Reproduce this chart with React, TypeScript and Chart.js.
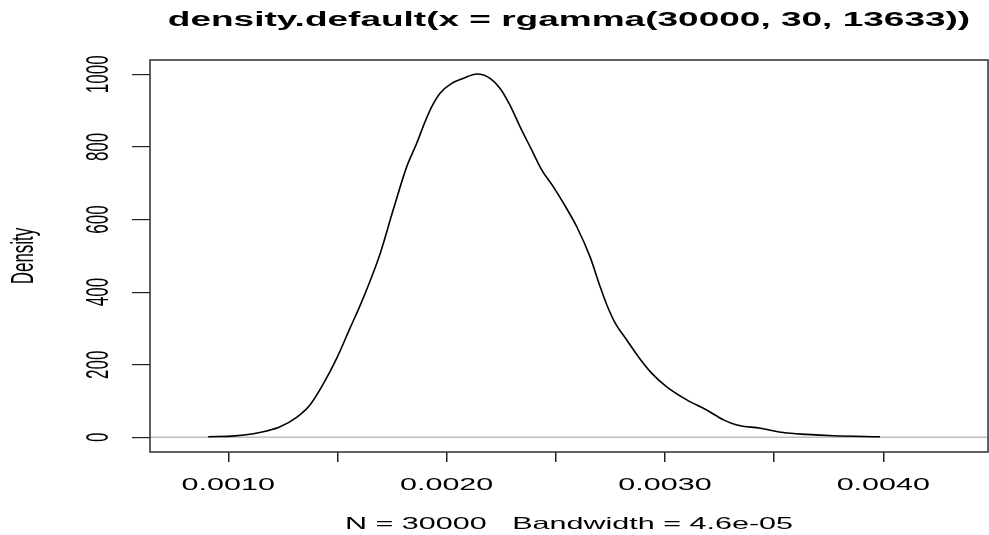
import { useEffect, useRef } from "react";
import { Chart, registerables } from "chart.js";

Chart.register(...registerables);

// Density curve
const densX = [
  0.000908, 0.00103, 0.001115, 0.00118, 0.001237, 0.001313, 0.001374, 0.001435,
  0.001497, 0.001557, 0.001603, 0.001649, 0.001695, 0.001756, 0.001817, 0.001863,
  0.001901, 0.001932, 0.00197, 0.002023, 0.002077, 0.002138, 0.002199, 0.002245,
  0.00229, 0.002336, 0.00239, 0.002436, 0.002489, 0.002535, 0.002596, 0.002657,
  0.002703, 0.002733, 0.002771, 0.002825, 0.002878, 0.00294, 0.003008, 0.0031,
  0.003191, 0.003268, 0.003329, 0.003436, 0.003542, 0.00365, 0.003771, 0.003985,
];
const densY = [
  1.5, 4, 10, 18, 29, 55, 89, 147,
  218, 300, 362, 430, 505, 628, 745, 810,
  869, 911, 948, 975, 989, 1001, 989, 961,
  915, 856, 791, 736, 690, 645, 580, 497,
  415, 366, 316, 268, 222, 176, 139, 103,
  75, 48, 34, 25, 13, 8, 4.4, 1.6,
];

const xTickValues = [0.001, 0.0015, 0.002, 0.0025, 0.003, 0.0035, 0.004];
const xTickLabels = ["0.0010", "", "0.0020", "", "0.0030", "", "0.0040"];
const yTickValues = [0, 200, 400, 600, 800, 1000];
const yTickLabels = ["0", "200", "400", "600", "800", "1000"];

const titleText = "density.default(x = rgamma(30000, 30, 13633))";
const xAxisTitle = "N = 30000   Bandwidth = 4.6e-05";
const yAxisTitle = "Density";

const X_MIN = 0.0006414;
const X_MAX = 0.0044795;
const Y_MIN = -40.5;
const Y_MAX = 1039.4;

const HS = 1.85; // horizontal stretch of the text
const FONT = '"Liberation Sans", Arial, sans-serif';

function drawText(
  ctx: CanvasRenderingContext2D,
  text: string,
  x: number,
  y: number,
  size: number,
  bold: boolean,
  rotate: boolean,
  align: CanvasTextAlign,
  baseline: CanvasTextBaseline
) {
  ctx.save();
  ctx.translate(x, y);
  ctx.scale(HS, 1);
  if (rotate) ctx.rotate(-Math.PI / 2);
  ctx.font = `${bold ? "bold " : ""}${size}px ${FONT}`;
  ctx.textAlign = align;
  ctx.textBaseline = baseline;
  ctx.fillStyle = "#000";
  ctx.fillText(text, 0, 0);
  ctx.restore();
}

const decorPlugin = {
  id: "rDecor",
  beforeDatasetsDraw(chart: any) {
    const { ctx, chartArea, scales } = chart;
    const y0 = scales.y.getPixelForValue(0);
    ctx.save();
    ctx.strokeStyle = "#bebebe";
    ctx.lineWidth = 1.5;
    ctx.beginPath();
    ctx.moveTo(chartArea.left, y0);
    ctx.lineTo(chartArea.right, y0);
    ctx.stroke();
    ctx.restore();
  },
  afterDatasetsDraw(chart: any) {
    const { ctx, chartArea, scales } = chart;
    ctx.save();
    ctx.strokeStyle = "#3a3a3a";
    ctx.lineWidth = 1.6;
    ctx.strokeRect(
      chartArea.left,
      chartArea.top,
      chartArea.right - chartArea.left,
      chartArea.bottom - chartArea.top
    );
    ctx.restore();

    // title
    drawText(ctx, titleText, (chartArea.left + chartArea.right) / 2, 26, 20, true, false, "center", "alphabetic");
    // x tick labels
    xTickValues.forEach((v, i) => {
      const lab = xTickLabels[i];
      if (!lab) return;
      drawText(ctx, lab, scales.x.getPixelForValue(v), 490, 16.5, false, false, "center", "alphabetic");
    });
    // y tick labels
    yTickValues.forEach((v, i) => {
      drawText(ctx, yTickLabels[i], 108, scales.y.getPixelForValue(v), 17, false, true, "center", "alphabetic");
    });
    // axis titles
    drawText(ctx, xAxisTitle, (chartArea.left + chartArea.right) / 2, 529, 16.5, false, false, "center", "alphabetic");
    drawText(ctx, yAxisTitle, 33, 256, 17, false, true, "center", "alphabetic");
  },
};

export default function App() {
  const ref = useRef<HTMLCanvasElement | null>(null);

  useEffect(() => {
    document.body.style.margin = "0";
    const canvas = ref.current;
    if (!canvas) return;
    const chart = new Chart(canvas, {
      type: "line",
      data: {
        datasets: [
          {
            data: densX.map((x, i) => ({ x, y: densY[i] })),
            borderColor: "#000",
            borderWidth: 1.6,
            pointRadius: 0,
            fill: false,
            cubicInterpolationMode: "monotone",
          },
        ],
      },
      options: {
        responsive: false,
        animation: false,
        devicePixelRatio: 1,
        layout: { padding: { top: 60, right: 1, left: 0, bottom: 0 } },
        plugins: {
          legend: { display: false },
          tooltip: { enabled: false },
          title: { display: false },
        },
        scales: {
          x: {
            type: "linear",
            min: X_MIN,
            max: X_MAX,
            afterBuildTicks: (s: any) => {
              s.ticks = xTickValues.map((v) => ({ value: v }));
            },
            afterFit: (s: any) => {
              s.height = 83;
            },
            ticks: { display: false },
            grid: {
              display: true,
              drawOnChartArea: false,
              drawTicks: true,
              tickLength: 10,
              color: "#222",
              lineWidth: 1.5,
            },
            border: { display: false },
          },
          y: {
            type: "linear",
            min: Y_MIN,
            max: Y_MAX,
            afterBuildTicks: (s: any) => {
              s.ticks = yTickValues.map((v) => ({ value: v }));
            },
            afterFit: (s: any) => {
              s.width = 150;
            },
            ticks: { display: false },
            grid: {
              display: true,
              drawOnChartArea: false,
              drawTicks: true,
              tickLength: 18,
              color: "#222",
              lineWidth: 1.2,
            },
            border: { display: false },
          },
        },
      },
      plugins: [decorPlugin],
    });
    return () => chart.destroy();
  }, []);

  return (
    <canvas
      ref={ref}
      width={989}
      height={535}
      style={{ display: "block", width: 989, height: 535 }}
    />
  );
}
